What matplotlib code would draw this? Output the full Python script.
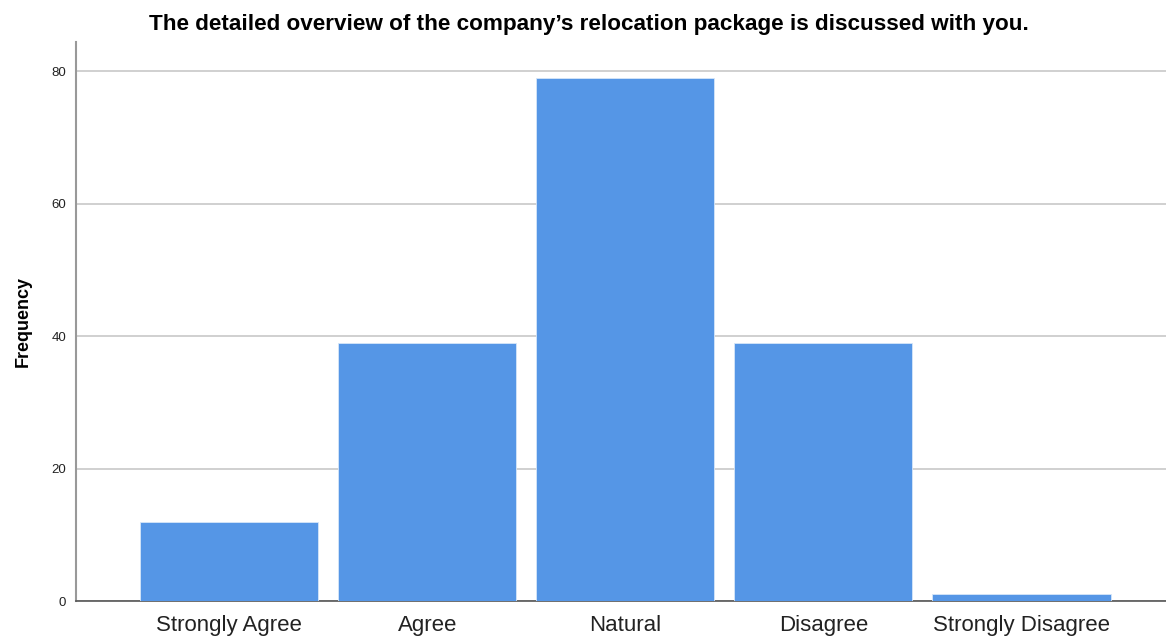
import matplotlib
matplotlib.use('Agg')
import matplotlib.pyplot as plt

# Dados
categorias = ['Strongly Agree', 'Agree', 'Natural', 'Disagree', 'Strongly Disagree']
frequencias = [12, 39, 79, 39, 1]
ticks_y = [0, 20, 40, 60, 80]

plt.rcParams['font.family'] = ['Liberation Sans', 'DejaVu Sans']

fig = plt.figure(figsize=(11.66, 6.37), dpi=100)
ax = fig.add_axes([0.0652, 0.0565, 0.9348, 0.8775])

# Barras
x = range(len(categorias))
ax.bar(x, frequencias, width=0.9, color='#5596E6', edgecolor='#D6E6F8', linewidth=0.6, zorder=3)

# Eixos e grade
ax.set_xlim(-0.773, 4.73)
ax.set_ylim(0, 84.4)
ax.set_yticks(ticks_y)
ax.set_yticklabels([str(t) for t in ticks_y], fontsize=9.5, color='#222222')
ax.set_xticks(list(x))
ax.set_xticklabels(categorias, fontsize=16, color='#222222')
ax.tick_params(axis='y', length=0, pad=7)
ax.tick_params(axis='x', length=0, pad=10)
ax.grid(axis='y', color='#C8C8C8', linewidth=1.2, zorder=0)
for lado in ['top', 'right']:
    ax.spines[lado].set_visible(False)
ax.spines['left'].set_color('#999999')
ax.spines['left'].set_linewidth(1.5)
ax.spines['bottom'].set_color('#555555')
ax.spines['bottom'].set_linewidth(1.2)

ax.set_ylabel('Frequency', fontsize=13, fontweight='bold', labelpad=14)
fig.text(0.505, 0.962, 'The detailed overview of the company\u2019s relocation package is discussed with you.',
         ha='center', va='center', fontsize=16.2, fontweight='bold')

plt.savefig('out.png', dpi=100)
